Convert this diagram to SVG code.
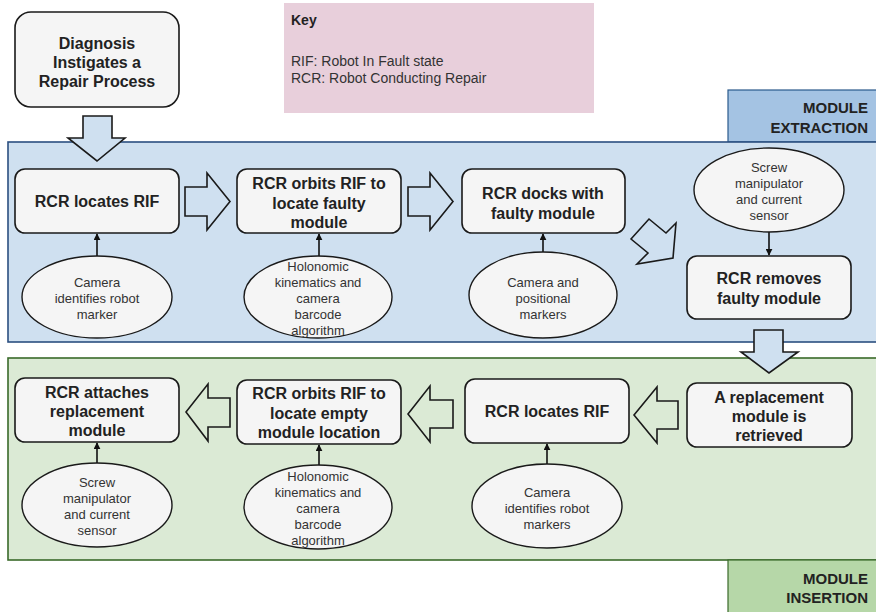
<svg xmlns="http://www.w3.org/2000/svg" width="876" height="612" viewBox="0 0 876 612">
<defs>
<marker id="ah" viewBox="0 0 10 10" refX="9" refY="5" markerWidth="7" markerHeight="7" markerUnits="userSpaceOnUse" orient="auto"><path d="M0,0 L10,5 L0,10 z" fill="#111"/></marker>
<style>
.box{fill:#f5f5f5;stroke:#1a1a1a;stroke-width:1.6}
.ell{fill:#f5f5f5;stroke:#1a1a1a;stroke-width:1.4}
.bt{font-family:"Liberation Sans",Arial,sans-serif;font-size:16px;font-weight:bold;fill:#222;text-anchor:middle}
.et{font-family:"Liberation Sans",Arial,sans-serif;font-size:13px;fill:#333;text-anchor:middle}
.tt{font-family:"Liberation Sans",Arial,sans-serif;font-size:15px;font-weight:bold;fill:#222;text-anchor:end}
.kt{font-family:"Liberation Sans",Arial,sans-serif;font-size:14px;fill:#333}
.blk{stroke:#1a1a1a;stroke-width:1.6;stroke-linejoin:miter}
.con{stroke:#111;stroke-width:1.6;fill:none}
</style>
</defs>
<rect width="876" height="612" fill="#ffffff"/>

<g id="regions">
<rect x="728" y="90" width="160" height="52" fill="#a4c3e3" stroke="#2b5a8c" stroke-width="1.2"/>
<rect x="8" y="142" width="880" height="200" fill="#cfe0f0" stroke="#2b4f80" stroke-width="1.6"/>
<rect x="8" y="358" width="880" height="202" fill="#dbead5" stroke="#3a6a2a" stroke-width="1.6"/>
<rect x="728" y="560" width="160" height="60" fill="#b6d7a8" stroke="#3a6a2a" stroke-width="1.2"/>
<text class="tt" x="868" y="113">MODULE</text>
<text class="tt" x="868" y="133">EXTRACTION</text>
<text class="tt" x="868" y="584">MODULE</text>
<text class="tt" x="868" y="603">INSERTION</text>
</g>

<g id="key">
<rect x="284" y="3" width="310" height="110" fill="#e8cfdb"/>
<text x="291" y="25" font-family="Liberation Sans, Arial, sans-serif" font-size="14" font-weight="bold" fill="#222">Key</text>
<text class="kt" x="291" y="66">RIF: Robot In Fault state</text>
<text class="kt" x="291" y="83">RCR: Robot Conducting Repair</text>
</g>

<g id="connectors">
<path class="blk" fill="#cfe0f0" d="M83,116 H112 V138 H125 L97,161 L68,138 H83 Z"/>
<path class="blk" fill="#cfe0f0" d="M185,187 H207 V173 L230,201.5 L207,230 V216 H185 Z"/>
<path class="blk" fill="#cfe0f0" d="M408,187 H430 V173 L453,201.5 L430,230 V216 H408 Z"/>
<path class="blk" fill="#cfe0f0" d="M631,239 L649,219 L666,233 L676,223 L673,258 L637,264 L648,253 Z"/>
<path class="blk" fill="#cfe0f0" d="M754,330 H783 V352 H798 L769,373 L741,352 H754 Z"/>
<path class="blk" fill="#dbead5" d="M678,401 V429 H657 V443 L634,415 L657,387 V401 Z"/>
<path class="blk" fill="#dbead5" d="M453,400 V428 H430 V442 L408,414 L430,386 V400 Z"/>
<path class="blk" fill="#dbead5" d="M230,398 V427 H208 V441 L186,412 L208,384 V398 Z"/>
<line class="con" x1="97" y1="256" x2="97" y2="234" marker-end="url(#ah)"/>
<line class="con" x1="319" y1="256" x2="319" y2="234" marker-end="url(#ah)"/>
<line class="con" x1="543" y1="252" x2="543" y2="234" marker-end="url(#ah)"/>
<line class="con" x1="769" y1="232" x2="769" y2="255" marker-end="url(#ah)"/>
<line class="con" x1="97" y1="463" x2="97" y2="443" marker-end="url(#ah)"/>
<line class="con" x1="319" y1="465" x2="319" y2="445" marker-end="url(#ah)"/>
<line class="con" x1="547" y1="464" x2="547" y2="444" marker-end="url(#ah)"/>
</g>

<g id="diagnosis">
<rect class="box" x="15" y="12" width="164" height="95" rx="16"/>
<text class="bt" x="97" y="49">Diagnosis</text>
<text class="bt" x="97" y="68">Instigates a</text>
<text class="bt" x="97" y="87">Repair Process</text>
</g>

<g id="locate1">
<rect class="box" x="15" y="169" width="164" height="64" rx="10"/>
<text class="bt" x="97" y="207">RCR locates RIF</text>
</g>
<g id="orbit1">
<rect class="box" x="237" y="169" width="164" height="64" rx="10"/>
<text class="bt" x="319" y="189">RCR orbits RIF to</text>
<text class="bt" x="319" y="209">locate faulty</text>
<text class="bt" x="319" y="228">module</text>
</g>
<g id="dock">
<rect class="box" x="462" y="169" width="163" height="64" rx="10"/>
<text class="bt" x="543" y="199">RCR docks with</text>
<text class="bt" x="543" y="219">faulty module</text>
</g>
<g id="remove">
<rect class="box" x="687" y="256" width="164" height="63" rx="10"/>
<text class="bt" x="769" y="284">RCR removes</text>
<text class="bt" x="769" y="304">faulty module</text>
</g>

<g id="e-camera1">
<ellipse class="ell" cx="97" cy="297" rx="75" ry="41"/>
<text class="et" x="97" y="287">Camera</text>
<text class="et" x="97" y="303">identifies robot</text>
<text class="et" x="97" y="319">marker</text>
</g>
<g id="e-holo1">
<ellipse class="ell" cx="318" cy="297" rx="74" ry="41"/>
<text class="et" x="318" y="271">Holonomic</text>
<text class="et" x="318" y="287">kinematics and</text>
<text class="et" x="318" y="303">camera</text>
<text class="et" x="318" y="319">barcode</text>
<text class="et" x="318" y="335">algorithm</text>
</g>
<g id="e-camera2">
<ellipse class="ell" cx="543" cy="295" rx="74" ry="43"/>
<text class="et" x="543" y="287">Camera and</text>
<text class="et" x="543" y="303">positional</text>
<text class="et" x="543" y="319">markers</text>
</g>
<g id="e-screw1">
<ellipse class="ell" cx="769" cy="190" rx="75" ry="42"/>
<text class="et" x="769" y="172">Screw</text>
<text class="et" x="769" y="188">manipulator</text>
<text class="et" x="769" y="204">and current</text>
<text class="et" x="769" y="220">sensor</text>
</g>

<g id="attach">
<rect class="box" x="15" y="378" width="164" height="64" rx="10"/>
<text class="bt" x="97" y="398">RCR attaches</text>
<text class="bt" x="97" y="417">replacement</text>
<text class="bt" x="97" y="436">module</text>
</g>
<g id="orbit2">
<rect class="box" x="237" y="380" width="164" height="64" rx="10"/>
<text class="bt" x="319" y="399">RCR orbits RIF to</text>
<text class="bt" x="319" y="419">locate empty</text>
<text class="bt" x="319" y="438">module location</text>
</g>
<g id="locate2">
<rect class="box" x="465" y="379" width="164" height="64" rx="10"/>
<text class="bt" x="547" y="417">RCR locates RIF</text>
</g>
<g id="retrieve">
<rect class="box" x="687" y="383" width="165" height="64" rx="10"/>
<text class="bt" x="769" y="403">A replacement</text>
<text class="bt" x="769" y="422">module is</text>
<text class="bt" x="769" y="441">retrieved</text>
</g>

<g id="e-screw2">
<ellipse class="ell" cx="97" cy="505" rx="75" ry="42"/>
<text class="et" x="97" y="487">Screw</text>
<text class="et" x="97" y="503">manipulator</text>
<text class="et" x="97" y="519">and current</text>
<text class="et" x="97" y="535">sensor</text>
</g>
<g id="e-holo2">
<ellipse class="ell" cx="318" cy="507" rx="74" ry="42"/>
<text class="et" x="318" y="481">Holonomic</text>
<text class="et" x="318" y="497">kinematics and</text>
<text class="et" x="318" y="513">camera</text>
<text class="et" x="318" y="529">barcode</text>
<text class="et" x="318" y="545">algorithm</text>
</g>
<g id="e-camera3">
<ellipse class="ell" cx="547" cy="506" rx="75" ry="42"/>
<text class="et" x="547" y="497">Camera</text>
<text class="et" x="547" y="513">identifies robot</text>
<text class="et" x="547" y="529">markers</text>
</g>
</svg>
